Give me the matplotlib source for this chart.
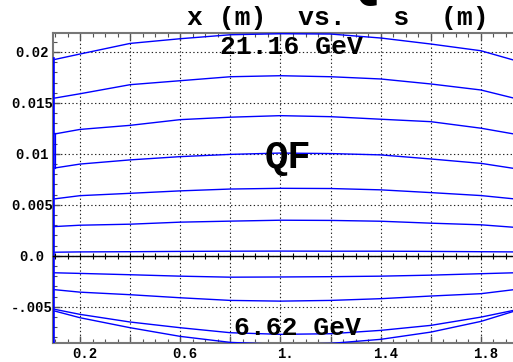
import numpy as np
import matplotlib
matplotlib.use('Agg')
import matplotlib.pyplot as plt
from matplotlib.ticker import MultipleLocator, FixedLocator, FixedFormatter
from matplotlib.transforms import ScaledTranslation


# s positions (m) where the ray coordinates were read
s_pos = [0.1, 0.2, 0.4, 0.6, 0.8, 1.0, 1.2, 1.4, 1.6, 1.8, 1.93]

# 21.16 GeV rays (upper bundle), x in m
ray_21_1 = [0.01927, 0.0198, 0.02084, 0.0213, 0.02169, 0.02179, 0.02176, 0.02137, 0.02078, 0.02012, 0.01921]
ray_21_2 = [0.01548, 0.0159, 0.01679, 0.01718, 0.01757, 0.01767, 0.01757, 0.01735, 0.01686, 0.01627, 0.01548]
ray_21_3 = [0.01196, 0.0124, 0.0128, 0.01336, 0.0136, 0.01375, 0.01365, 0.0134, 0.01316, 0.01252, 0.01196]
ray_21_4 = [0.00862, 0.0090, 0.00941, 0.00973, 0.00995, 0.01008, 0.01003, 0.0099, 0.0095, 0.00907, 0.00858]
ray_21_5 = [0.00559, 0.0059, 0.00613, 0.00637, 0.00655, 0.00662, 0.0066, 0.00647, 0.0062, 0.00591, 0.00559]
ray_21_6 = [0.00287, 0.0030, 0.0031, 0.0033, 0.0034, 0.00349, 0.00347, 0.00339, 0.0032, 0.00304, 0.0028]
ray_21_7 = [0.00035, 0.00038, 0.0004, 0.00043, 0.00045, 0.00046, 0.00045, 0.00045, 0.00043, 0.0004, 0.00038]

# 6.62 GeV rays (lower bundle)
ray_6_1 = [-0.00167, -0.00173, -0.00186, -0.002, -0.0021, -0.00208, -0.00205, -0.002, -0.0019, -0.00176, -0.00167]
ray_6_2 = [-0.00333, -0.00357, -0.00382, -0.00412, -0.00438, -0.00445, -0.00438, -0.00421, -0.00395, -0.00372, -0.00333]
ray_6_3 = [-0.00526, -0.00575, -0.0065, -0.00706, -0.00755, -0.00771, -0.00765, -0.00732, -0.00683, -0.00602, -0.00536]
ray_6_4 = [-0.00543, -0.00608, -0.00706, -0.00791, -0.0085, -0.0087, -0.0086, -0.0082, -0.00749, -0.00644, -0.00546]

rays = [ray_21_1, ray_21_2, ray_21_3, ray_21_4, ray_21_5, ray_21_6, ray_21_7,
        ray_6_1, ray_6_2, ray_6_3, ray_6_4]

# entry edge of the quad (vertical jump of the rays)
s_entry = 0.0935
x_entry_top = 0.01927
s_jump = 0.1
x_jump = [0.0086, 0.0120]

x_ticks = [0.2, 0.4, 0.6, 0.8, 1.0, 1.2, 1.4, 1.6, 1.8]
x_ticklabels = ['0.2', '', '0.6', '', '1.', '', '1.4', '', '1.8']
y_ticks = [-0.005, 0.0, 0.005, 0.01, 0.015, 0.02]
y_ticklabels = ['-.005', '0.0', '0.005', '0.01', '0.015', '0.02']

title = 'x (m)  vs.   s  (m)'
label_hi = '21.16 GeV'
label_lo = '6.62 GeV'
label_mag = 'QF'

plt.rcParams['font.family'] = ['Liberation Mono', 'DejaVu Sans']
plt.rcParams['font.weight'] = 'bold'

fig = plt.figure(figsize=(5.13, 3.62), dpi=100)
pos = [0.1033, 0.0533, 0.9025, 0.8555]
ax = fig.add_axes(pos)
ax.set_xlim(0.092, 1.94)
ax.set_ylim(-0.00853, 0.02186)

for r in rays:
    ax.plot(s_pos, r, color='#0000ff', lw=1.0, zorder=3)
ax.plot([s_entry, s_entry], [-0.01, x_entry_top], color='#0000ff', lw=2.6, zorder=3)
ax.plot([s_jump, s_jump], x_jump, color='#0000ff', lw=0.9, zorder=3)

ax.xaxis.set_major_locator(FixedLocator(x_ticks))
ax.xaxis.set_major_formatter(FixedFormatter(x_ticklabels))
ax.xaxis.set_minor_locator(MultipleLocator(0.05))
ax.yaxis.set_major_locator(FixedLocator(y_ticks))
ax.yaxis.set_major_formatter(FixedFormatter(y_ticklabels))
ax.yaxis.set_minor_locator(MultipleLocator(0.001))

ax.grid(True, which='major', color='#222222', lw=0.8, linestyle=(0, (1.2, 2.2)))
ax.tick_params(which='both', direction='in', top=True, right=False, color='#555555')
ax.tick_params(which='major', length=5, width=1)
ax.tick_params(which='minor', length=3, width=0.8)
ax.tick_params(axis='y', labelsize=10, pad=15)
ax.tick_params(axis='x', labelsize=10, pad=3)
for lbl in ax.get_yticklabels():
    lbl.set_ha('center')
    lbl.set_fontweight('bold')
off = ScaledTranslation(4.5 / 100, 0, fig.dpi_scale_trans)
for lbl in ax.get_xticklabels():
    lbl.set_transform(lbl.get_transform() + off)
    lbl.set_fontweight('bold')
for sp in ax.spines.values():
    sp.set_color('#777777')
    sp.set_linewidth(1.5)

# x axis drawn through zero
ax0 = fig.add_axes(pos, sharex=ax, sharey=ax)
ax0.patch.set_visible(False)
for k in ['top', 'left', 'right']:
    ax0.spines[k].set_visible(False)
ax0.spines['bottom'].set_position(('data', 0))
ax0.spines['bottom'].set_color('black')
ax0.spines['bottom'].set_linewidth(1.0)
ax0.tick_params(axis='x', which='both', direction='inout', labelbottom=False, top=False,
                color='black', length=5, width=0.8)
ax0.tick_params(axis='y', which='both', left=False, labelleft=False)

ax.text(1.042, 0.01983, label_hi, ha='center', va='baseline', fontsize=19, fontweight='bold', zorder=5)
ax.text(1.032, 0.00865, label_mag, ha='center', va='baseline', fontsize=28, fontweight='bold', zorder=5)
ax.text(1.068, -0.00781, label_lo, ha='center', va='baseline', fontsize=19, fontweight='bold', zorder=5)

fig.text(338 / 513, 1 - 25 / 362, title, ha='center', va='baseline', fontsize=19, fontweight='bold')
fig.text(362 / 513, 1 + 4 / 362, 'Q', ha='center', va='baseline', fontsize=40, fontweight='bold')

fig.savefig('out.png', dpi=100)
